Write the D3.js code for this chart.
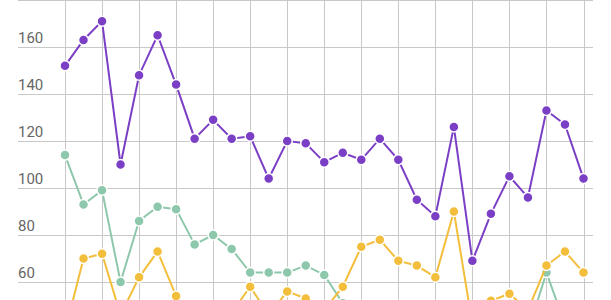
<!DOCTYPE html>
<html>
<head>
<meta charset="utf-8">
<script src="https://cdn.jsdelivr.net/npm/d3@7"></script>
<style>
  body { margin: 0; background: #fff; }
  svg { display: block; }
</style>
</head>
<body>
<div id="chart"></div>
<script>
// categories (one per point)
var categories = d3.range(1, 30).map(function(d){ return "P" + d; });

// y tick labels
var yTicks = [0, 20, 40, 60, 80, 100, 120, 140, 160, 180];

// series values (points below the visible window are estimated)
var purple = [152, 163, 171, 110, 148, 165, 144, 121, 129, 121, 122, 104, 120, 119, 111,
              115, 112, 121, 112, 95, 88, 126, 69, 89, 105, 96, 133, 127, 104];
var green  = [114, 93, 99, 60, 86, 92, 91, 76, 80, 74, 64, 64, 64, 67, 63,
              51, 46, 44, 42, 45, 40, 43, 38, 41, 40, 39, 64, 42, 40];
var yellow = [39, 70, 72, 46, 62, 73, 54, 44, 40, 47, 58, 46, 56, 53, 48,
              58, 75, 78, 69, 67, 62, 90, 42, 52, 55, 48, 67, 73, 64];

var series = [
  { name: "green",  values: green,  color: "#8ec8ac" },
  { name: "yellow", values: yellow, color: "#f3be3b" },
  { name: "purple", values: purple, color: "#7b3fc5" }
];

var width = 611, height = 300;

var svg = d3.select("#chart").append("svg")
            .attr("width", width)
            .attr("height", height);

var x = d3.scalePoint()
          .domain(categories)
          .range([65, 583.5]);

var y = d3.scaleLinear()
          .domain([0, 180])
          .range([423, 0]);

// horizontal grid + labels
var grid = svg.append("g");
grid.selectAll("line.h")
    .data(yTicks)
    .enter().append("line")
    .attr("class", "h")
    .attr("x1", 18)
    .attr("x2", 593)
    .attr("y1", function(d){ return Math.round(y(d)) + 0.5; })
    .attr("y2", function(d){ return Math.round(y(d)) + 0.5; })
    .attr("stroke", "#c8c8c8")
    .attr("stroke-width", 1);

// vertical grid every other category
grid.selectAll("line.v")
    .data(categories.filter(function(d, i){ return i % 2 == 0; }))
    .enter().append("line")
    .attr("class", "v")
    .attr("x1", function(d){ return Math.round(x(d)) + 0.5; })
    .attr("x2", function(d){ return Math.round(x(d)) + 0.5; })
    .attr("y1", 0)
    .attr("y2", height)
    .attr("stroke", "#c8c8c8")
    .attr("stroke-width", 1);

grid.selectAll("text")
    .data(yTicks)
    .enter().append("text")
    .text(function(d){ return d; })
    .attr("x", 18)
    .attr("y", function(d){ return y(d) - 4; })
    .attr("font-family", "Roboto, sans-serif")
    .attr("font-size", "15px")
    .style("fill", "#666");

var line = d3.line()
             .x(function(d, i){ return x(categories[i]); })
             .y(function(d){ return y(d); });

series.forEach(function(s){
  var g = svg.append("g");
  g.append("path")
   .datum(s.values)
   .attr("d", line)
   .attr("fill", "none")
   .attr("stroke", s.color)
   .attr("stroke-width", 2);

  g.selectAll("circle")
   .data(s.values)
   .enter().append("circle")
   .attr("cx", function(d, i){ return x(categories[i]); })
   .attr("cy", function(d){ return y(d); })
   .attr("r", 5)
   .attr("fill", s.color)
   .attr("stroke", "#fff")
   .attr("stroke-width", 1.5);
});
</script>
</body>
</html>
